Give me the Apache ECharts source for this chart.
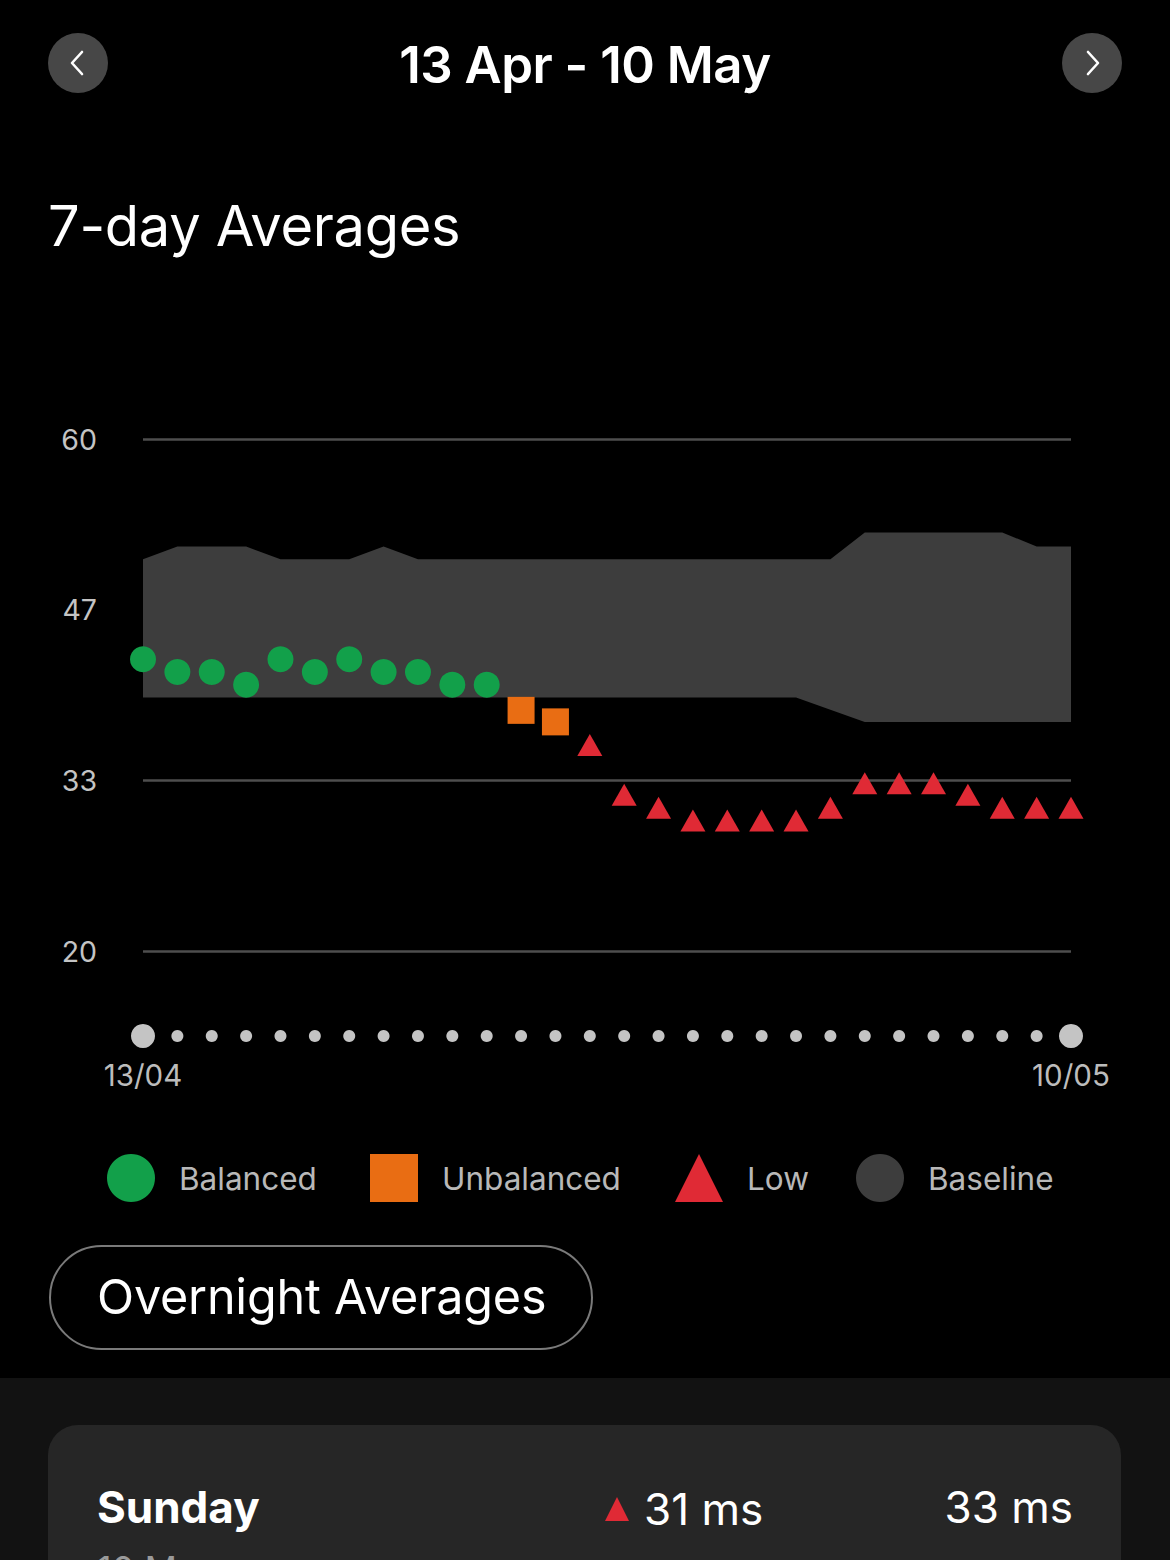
<!DOCTYPE html>
<html>
<head>
<meta charset="utf-8">
<script src="https://cdn.jsdelivr.net/npm/echarts@6/dist/echarts.min.js"></script>
<style>
  html, body { margin:0; padding:0; background:#000; width:1170px; height:1560px; overflow:hidden; font-family: Inter, "Noto Sans", sans-serif; }
  #chart { position:absolute; left:0; top:0; width:1170px; height:1560px; }
  .abs { position:absolute; }
  .btn { width:60px; height:60px; border-radius:50%; background:#474747; top:33px; }
  .btn svg { position:absolute; left:0; top:0; }
  #range { left:0; width:1170px; top:30px; text-align:center; color:#fff; font-size:51px; font-weight:600; line-height:70px; letter-spacing:-0.5px; }
  #title7 { left:48px; top:190px; color:#fff; font-size:56px; font-weight:400; line-height:72px; letter-spacing:-0.3px; }
  #pill { left:49px; top:1245px; width:540px; height:101px; border:2.5px solid #7a7a7a; border-radius:54px; }
  #pill span { position:absolute; left:46px; top:18px; color:#fff; font-size:48.5px; line-height:64px; letter-spacing:-0.2px; }
  #panel { left:0; top:1378px; width:1170px; height:182px; background:#121212; }
  #card { left:48px; top:1425px; width:1073px; height:200px; background:#262626; border-radius:30px; }
  .cardtxt { color:#fff; font-size:44px; line-height:56px; }
</style>
</head>
<body>
<div id="chart"></div>

<div class="abs btn" style="left:48px;"><svg width="60" height="60"><polyline points="34,19 24,30 34,41" fill="none" stroke="#fff" stroke-width="2.6" stroke-linecap="round" stroke-linejoin="round"/></svg></div>
<div class="abs btn" style="left:1062px;"><svg width="60" height="60"><polyline points="26,19 36,30 26,41" fill="none" stroke="#fff" stroke-width="2.6" stroke-linecap="round" stroke-linejoin="round"/></svg></div>
<div id="range" class="abs">13 Apr - 10 May</div>
<div id="title7" class="abs">7-day Averages</div>
<div id="pill" class="abs"><span>Overnight Averages</span></div>
<div id="panel" class="abs"></div>
<div id="card" class="abs">
  <div class="abs cardtxt" style="left:49px; top:54px; font-weight:700;">Sunday</div>
  <svg class="abs" style="left:557px; top:72px;" width="24" height="24"><polygon points="12,0 24,24 0,24" fill="#e02a35"/></svg>
  <div class="abs cardtxt" style="left:596px; top:56px;">31 ms</div>
  <div class="abs cardtxt" style="right:48px; top:54px; text-align:right;">33 ms</div>
  <div class="abs" style="left:49px; top:122px; color:#9a9a9a; font-size:36px; line-height:44px;">10 May</div>
</div>

<script>
// ---- data ----
const days = ['13/04','14/04','15/04','16/04','17/04','18/04','19/04','20/04','21/04','22/04','23/04','24/04','25/04','26/04','27/04','28/04','29/04','30/04','01/05','02/05','03/05','04/05','05/05','06/05','07/05','08/05','09/05','10/05'];
const hrv7 = [42.8, 41.8, 41.8, 40.8, 42.8, 41.8, 42.8, 41.8, 41.8, 40.8, 40.8, 38.8, 37.9, 36.1, 32.2, 31.2, 30.2, 30.2, 30.2, 30.2, 31.2, 33.1, 33.1, 33.1, 32.2, 31.2, 31.2, 31.2];
const status = ['B','B','B','B','B','B','B','B','B','B','B','U','U','L','L','L','L','L','L','L','L','L','L','L','L','L','L','L'];
const baseTop = [50.6, 51.6, 51.6, 51.6, 50.6, 50.6, 50.6, 51.6, 50.6, 50.6, 50.6, 50.6, 50.6, 50.6, 50.6, 50.6, 50.6, 50.6, 50.6, 50.6, 50.6, 52.7, 52.7, 52.7, 52.7, 52.7, 51.6, 51.6];
const baseBottom = [39.8, 39.8, 39.8, 39.8, 39.8, 39.8, 39.8, 39.8, 39.8, 39.8, 39.8, 39.8, 39.8, 39.8, 39.8, 39.8, 39.8, 39.8, 39.8, 39.8, 38.85, 37.9, 37.9, 37.9, 37.9, 37.9, 37.9, 37.9];
const yMin = 20, yMax = 60;
const legendNames = ['Balanced', 'Unbalanced', 'Low', 'Baseline'];
const legendIcons = ['circle', 'rect', 'triangle', 'circle'];

// ---- build ----
const pick = (code) => hrv7.map((v, i) => status[i] === code ? v : null);
const bandHeight = baseTop.map((t, i) => +(t - baseBottom[i]).toFixed(2));
const dayRow = days.map(() => 0);

const GREEN = '#12a04a', ORANGE = '#e96d13', RED = '#e02a35', BAND = '#3d3d3d';
const legendColors = [GREEN, ORANGE, RED, BAND];
const legendLefts = [107, 370, 675, 856];

const chart = echarts.init(document.getElementById('chart'), null, { renderer: 'svg' });
chart.setOption({
  animation: false,
  backgroundColor: 'transparent',
  textStyle: { fontFamily: 'Inter, "Noto Sans", sans-serif' },
  grid: [
    { left: 143, top: 439, width: 928, height: 512 },
    { left: 143, top: 1024, width: 928, height: 24 }
  ],
  xAxis: [
    { type: 'category', data: days, boundaryGap: false, gridIndex: 0,
      axisLine: { show: false }, axisTick: { show: false }, axisLabel: { show: false }, splitLine: { show: false } },
    { type: 'category', data: days, boundaryGap: false, gridIndex: 1,
      axisLine: { show: false }, axisTick: { show: false }, splitLine: { show: false },
      axisLabel: { interval: (i) => i === 0 || i === days.length - 1, color: '#bcbcbc', fontSize: 29.5, margin: 12 } }
  ],
  yAxis: [
    { type: 'value', min: yMin, max: yMax, interval: (yMax - yMin) / 3, gridIndex: 0,
      axisLine: { show: false }, axisTick: { show: false },
      axisLabel: { formatter: (v) => Math.round(v), color: '#c4c4c4', fontSize: 28.5, margin: 46 },
      splitLine: { lineStyle: { color: '#4e4e4e', width: 2.5 } } },
    { type: 'value', min: -1, max: 1, gridIndex: 1, show: false }
  ],
  legend: legendNames.map((n, i) => ({
    left: legendLefts[i], top: 1154, padding: 0, itemWidth: 48, itemHeight: 48,
    selectedMode: false,
    textStyle: { color: '#b8b8b8', fontSize: 31.5, padding: [0, 0, 0, 19] },
    data: [{ name: n, icon: legendIcons[i], itemStyle: { color: legendColors[i] } }]
  })),
  series: [
    { name: 'baseLow', type: 'line', stack: 'base', data: baseBottom, symbol: 'none',
      lineStyle: { width: 0, opacity: 0 }, silent: true, z: 1 },
    { name: 'Baseline', type: 'line', stack: 'base', data: bandHeight, symbol: 'none', color: BAND,
      lineStyle: { width: 0, opacity: 0 }, areaStyle: { color: BAND, opacity: 1 }, silent: true, z: 1 },
    { name: 'Balanced', type: 'scatter', data: pick('B'), symbol: 'circle', symbolSize: 26,
      itemStyle: { color: GREEN, opacity: 1 }, z: 5 },
    { name: 'Unbalanced', type: 'scatter', data: pick('U'), symbol: 'rect', symbolSize: 27,
      itemStyle: { color: ORANGE, opacity: 1 }, z: 5 },
    { name: 'Low', type: 'scatter', data: pick('L'), symbol: 'triangle', symbolSize: [25, 22],
      itemStyle: { color: RED, opacity: 1 }, z: 5 },
    { name: 'days', type: 'scatter', xAxisIndex: 1, yAxisIndex: 1, data: dayRow, symbol: 'circle',
      symbolSize: (v, p) => (p.dataIndex === 0 || p.dataIndex === days.length - 1) ? 24 : 12,
      itemStyle: { color: '#c4c4c4', opacity: 1 }, silent: true }
  ]
});
</script>
</body>
</html>
